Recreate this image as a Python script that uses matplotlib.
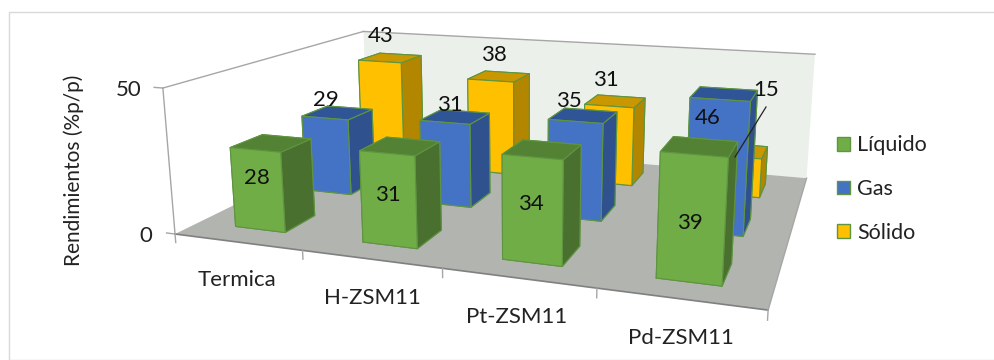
import numpy as np
import matplotlib
matplotlib.use("Agg")
import matplotlib.pyplot as plt
from matplotlib.lines import Line2D
from matplotlib.patches import Patch, Rectangle
from mpl_toolkits.mplot3d.art3d import Poly3DCollection

categories = ["Termica", "H-ZSM11", "Pt-ZSM11", "Pd-ZSM11"]
series = ["Líquido", "Gas", "Sólido"]
liquido = [28, 31, 34, 39]
gas = [29, 31, 35, 46]
solido = [43, 38, 31, 15]
values = [liquido, gas, solido]
# face colours per series: front, side, top
front = ["#70AD47", "#4472C4", "#FFC000"]
side = ["#4A7030", "#2F528F", "#B38600"]
top = ["#548235", "#2F5597", "#C99700"]
edge = "#5F9440"

plt.rcParams['font.family'] = ['Lato', 'DejaVu Sans']
TXT = '#222222'
W, H = 995, 360


def px_text(x, y, s, **kw):
    # label placed in picture pixels, y from the top
    fig.text(x / W, 1 - y / H, s, ha=kw.pop('ha', 'center'), va='center', **kw)


fig = plt.figure(figsize=(W / 100, H / 100), dpi=100)
fig.patches.append(Rectangle((0.009, 0.0), 0.995, 0.968, transform=fig.transFigure,
                             facecolor='white', edgecolor='#D9D9D9', linewidth=1, zorder=-5))
ax = fig.add_axes([0.1808, -0.3212, 0.6613, 1.8278], projection='3d')
ax.computed_zorder = False
ax.set_proj_type('persp', focal_length=0.293)
ax.view_init(elev=13.77, azim=-70.72, roll=0.04)
ax.set_box_aspect((4, 2.864, 1.023))
ax.set_axis_off()
ax.patch.set_alpha(0)

nx, ny = len(categories), len(series)
zmax = 50
ax.set_xlim(0, nx)
ax.set_ylim(0, ny)
ax.set_zlim(0, zmax)

# back wall, floor, frame lines (the box runs past the axes square, so no clipping)
wall = Poly3DCollection([[(0, ny, 0), (nx, ny, 0), (nx, ny, zmax), (0, ny, zmax)]],
                        facecolors='#EBF1EA', edgecolors='none', zorder=1)
floor = Poly3DCollection([[(0, 0, 0), (nx, 0, 0), (nx, ny, 0), (0, ny, 0)]],
                         facecolors='#B1B4AF', edgecolors='none', zorder=2)
for poly in (wall, floor):
    ax.add_collection3d(poly)
    poly.set_clip_on(False)
line = dict(color='#A6A6A6', lw=1.0, zorder=3, clip_on=False)
ax.plot([0, 0], [0, 0], [0, zmax], **line)
ax.plot([0, 0], [0, ny], [zmax, zmax], **line)
ax.plot([0, nx], [ny, ny], [zmax, zmax], **line)
ax.plot([0, nx], [0, 0], [0, 0], color='#808080', lw=1.2, zorder=3, clip_on=False)
ax.plot([nx, nx], [0, ny], [0, 0], **line)
for ix in range(nx + 1):
    ax.plot([ix, ix], [0, 0], [0, -3], **line)
for z in (0, zmax):
    ax.plot([0, -0.07], [0, 0], [z, z], **line)

w = 0.40
d = 0.42
order = sorted(((ix, iy) for ix in range(nx) for iy in range(ny)),
               key=lambda p: (-p[1], p[0]))
for zo, (ix, iy) in enumerate(order):
    h = values[iy][ix]
    # bar3d faces: bottom, top, front, back, left, right
    ax.bar3d(ix + (1 - w) / 2, iy + (1 - d) / 2, 0, w, d, h,
             color=[front[iy], top[iy], front[iy], front[iy], side[iy], side[iy]],
             shade=False, edgecolor=edge, linewidth=0.8, zorder=10 + zo)

label_xy = [[(257, 178), (388, 195), (531, 204), (690, 223)],
            [(326, 100), (450, 105), (569, 101), (708, 118)],
            [(381, 36), (494, 55), (606, 80), (766, 90)]]
for iy in range(ny):
    for ix in range(nx):
        px_text(*label_xy[iy][ix], str(values[iy][ix]), fontsize=16, color='#111111')
fig.add_artist(Line2D([766 / W, 735 / W], [1 - 107 / H, 1 - 157 / H], color='#222222', lw=0.9))

cat_xy = [(237, 280), (372, 298), (517, 317), (681, 338)]
for (x, y), c in zip(cat_xy, categories):
    px_text(x, y, c, fontsize=16, color=TXT)
px_text(129, 90, "50", fontsize=16, color=TXT)
px_text(146, 236, "0", fontsize=16, color=TXT)
px_text(74, 170, "Rendimientos (%p/p)", rotation=90, fontsize=15, color=TXT)

handles = [Patch(facecolor=c, edgecolor=edge, label=s) for c, s in zip(front, series)]
fig.legend(handles=handles, loc='center left', bbox_to_anchor=(837 / W, 1 - 189 / H), frameon=False,
           fontsize=15.5, handlelength=0.6, handleheight=0.6, labelspacing=1.1, handletextpad=0.35,
           borderpad=0, borderaxespad=0, labelcolor=TXT)
fig.savefig("out.png", dpi=100)
